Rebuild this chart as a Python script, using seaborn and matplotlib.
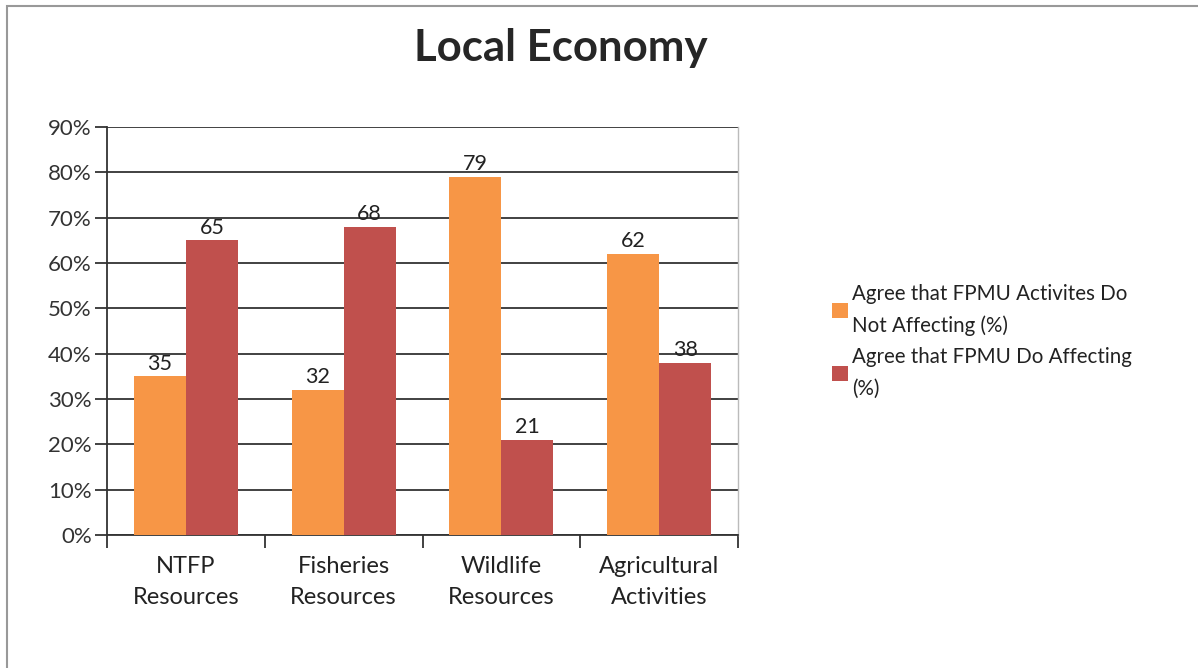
import numpy as np
import pandas as pd
import matplotlib
matplotlib.use('Agg')
import matplotlib.pyplot as plt
import seaborn as sns
from matplotlib.patches import Rectangle
from matplotlib.ticker import FuncFormatter

categories = ['NTFP\nResources', 'Fisheries\nResources', 'Wildlife\nResources', 'Agricultural\nActivities']
not_affecting = [35, 32, 79, 62]
do_affecting = [65, 68, 21, 38]
series_names = ['Agree that FPMU Activites Do\nNot Affecting (%)',
                'Agree that FPMU Do Affecting\n(%)']
colors = ['#F79646', '#C0504D']

# long form table for seaborn
df = pd.DataFrame({
    'category': categories * 2,
    'value': not_affecting + do_affecting,
    'series': [series_names[0]] * 4 + [series_names[1]] * 4,
})

sns.set_style('white')
plt.rcParams['font.family'] = ['Lato', 'DejaVu Sans']

fig = plt.figure(figsize=(11.98, 6.68), dpi=100)
ax = fig.add_axes([107 / 1198, 1 - 535 / 668, (738 - 107) / 1198, (535 - 127) / 668])

sns.barplot(data=df, x='category', y='value', hue='series', palette=colors,
            width=0.66, saturation=1, linewidth=0, ax=ax, zorder=3)

for cont in ax.containers:
    ax.bar_label(cont, fmt='%d', padding=2, fontsize=15.5, color='#222222')

ax.set_ylim(0, 90)
ax.set_yticks(np.arange(0, 91, 10))
ax.yaxis.set_major_formatter(FuncFormatter(lambda v, p: '%d%%' % v))
ax.set_xlim(-0.5, 3.5)
ax.set_xticks(np.arange(4))
ax.set_xticklabels(categories, fontsize=17, color='#222222', linespacing=1.6)
ax.set_xticks(np.arange(-0.5, 4, 1), minor=True)
ax.tick_params(axis='x', which='major', bottom=False, length=0, pad=15)
ax.tick_params(axis='x', which='minor', bottom=True, length=9, width=1.3, color='#333333', direction='out')
ax.tick_params(axis='y', left=True, length=9, width=1.3, color='#333333', labelsize=16,
               labelcolor='#333333', pad=2)
ax.grid(axis='y', color='#333333', linewidth=1.3, zorder=0)
ax.set_axisbelow(True)
ax.set_xlabel('')
ax.set_ylabel('')

ax.spines['top'].set_visible(False)
ax.spines['left'].set_color('#333333')
ax.spines['left'].set_linewidth(1.3)
ax.spines['bottom'].set_color('#333333')
ax.spines['bottom'].set_linewidth(1.3)
ax.spines['right'].set_color('#bbbbbb')
ax.spines['right'].set_linewidth(1.0)

fig.suptitle('Local Economy', x=561 / 1198, y=1 - 48 / 668, va='center',
             fontsize=31.5, fontweight='bold')

leg = ax.legend(loc='center left', bbox_to_anchor=(1.12, 0.475), frameon=False,
                fontsize=14.8, handlelength=0.75, handleheight=0.75, handletextpad=0.2,
                labelspacing=0.55)
for t in leg.get_texts():
    t.set_color('#222222')
    t.set_linespacing(1.72)

# outer chart border
fig.patches.append(Rectangle((7 / 1198, -0.05), 1.2, 1 - 6 / 668 + 0.05,
                             transform=fig.transFigure, fill=False,
                             edgecolor='#999999', linewidth=1.5))

fig.savefig('out.png', dpi=100)
